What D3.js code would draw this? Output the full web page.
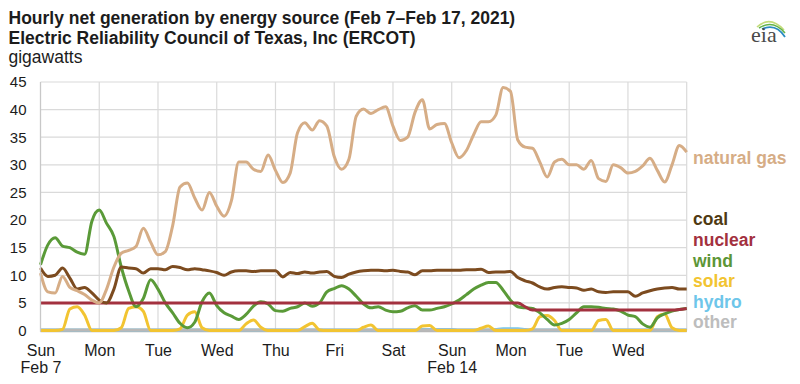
<!DOCTYPE html>
<html>
<head>
<meta charset="utf-8">
<script src="https://cdn.jsdelivr.net/npm/d3@7"></script>
<style>
  body { margin: 0; background: #fff; }
  svg { display: block; font-family: "Liberation Sans", Arial, sans-serif; }
</style>
</head>
<body>
<div id="chart"></div>
<script>
// readings every 3 hours, Sun Feb 7 00:00 to Thu Feb 18 00:00 (gigawatts)
var startDay = new Date(2021, 1, 7);
var endDay = new Date(2021, 1, 18);
var stepHours = 3;

var naturalGas = [10.4, 7.0, 6.8, 9.8, 7.8, 7.2, 6.5, 5.5, 5.0, 7.5,
  11.5, 14.0, 14.5, 15.2, 18.5, 16.0, 13.7, 14.3, 19.0, 26.0,
  26.7, 24.0, 21.8, 25.0, 22.5, 20.7, 23.5, 30.5, 30.5, 29.2,
  28.8, 31.8, 29.0, 26.8, 28.5, 35.8, 37.6, 36.3, 38.0, 37.0,
  31.5, 29.2, 31.0, 38.8, 40.1, 39.3, 40.0, 40.5, 37.0, 34.4,
  35.0, 39.5, 41.8, 36.5, 37.3, 37.5, 34.0, 31.3, 32.6, 35.5,
  37.8, 37.8, 39.0, 44.0, 43.3, 34.5, 33.2, 33.0, 30.5, 27.8,
  30.5, 31.0, 30.0, 30.0, 29.2, 30.8, 27.5, 27.0, 30.0, 29.5,
  28.5, 28.8, 29.8, 31.2, 29.0, 26.9, 30.0, 33.5, 32.3];

var coal = [11.3, 9.8, 10.0, 11.3, 9.5, 7.5, 7.8, 6.8, 5.5, 5.0,
  7.5, 11.5, 11.3, 11.2, 10.4, 11.2, 11.2, 11.0, 11.6, 11.4,
  11.0, 11.2, 11.0, 10.8, 10.5, 10.0, 10.6, 10.8, 10.8, 10.7,
  10.8, 10.8, 10.8, 9.7, 10.5, 10.3, 10.6, 10.4, 10.6, 10.7,
  9.8, 9.6, 10.2, 10.6, 10.8, 10.9, 10.9, 10.8, 10.9, 10.7,
  10.6, 10.1, 10.8, 10.8, 10.9, 10.9, 10.9, 10.9, 11.0, 11.0,
  11.1, 10.5, 10.6, 10.6, 10.7, 9.6, 9.0, 8.6, 7.9, 7.5,
  7.8, 7.9, 7.8, 7.7, 7.3, 7.5, 7.0, 6.9, 7.0, 7.0,
  7.0, 6.2, 6.8, 7.2, 7.5, 7.7, 7.8, 7.5, 7.5];

var nuclear = [5.0, 5.0, 5.0, 5.0, 5.0, 5.0, 5.0, 5.0, 5.0, 5.0,
  5.0, 5.0, 5.0, 5.0, 5.0, 5.0, 5.0, 5.0, 5.0, 5.0,
  5.0, 5.0, 5.0, 5.0, 5.0, 5.0, 5.0, 5.0, 5.0, 5.0,
  5.0, 5.0, 5.0, 5.0, 5.0, 5.0, 5.0, 5.0, 5.0, 5.0,
  5.0, 5.0, 5.0, 5.0, 5.0, 5.0, 5.0, 5.0, 5.0, 5.0,
  5.0, 5.0, 5.0, 5.0, 5.0, 5.0, 5.0, 5.0, 5.0, 5.0,
  5.0, 5.0, 5.0, 5.0, 5.0, 5.0, 4.3, 3.7, 3.7, 3.7,
  3.7, 3.7, 3.7, 3.7, 3.7, 3.7, 3.7, 3.7, 3.7, 3.7,
  3.7, 3.7, 3.7, 3.7, 3.7, 3.7, 3.7, 3.8, 4.0];

var wind = [11.9, 15.5, 16.8, 15.3, 15.0, 14.2, 13.8, 19.8, 21.8, 19.4,
  17.0, 11.5, 7.2, 4.3, 5.8, 9.2, 7.5, 5.0, 3.2, 1.3,
  0.5, 1.5, 5.2, 6.8, 4.5, 3.2, 2.6, 2.0, 2.9, 4.4,
  5.2, 4.8, 3.6, 3.5, 4.0, 4.3, 5.0, 4.4, 5.0, 7.0,
  7.6, 8.1, 7.5, 6.2, 4.8, 4.1, 4.3, 3.7, 3.4, 3.5,
  4.1, 4.5, 3.7, 3.7, 4.0, 4.3, 4.8, 5.5, 6.5, 7.5,
  8.2, 8.7, 8.7, 7.3, 5.5, 4.3, 4.1, 4.0, 3.2, 2.0,
  1.0, 1.3, 2.0, 3.2, 4.3, 4.3, 4.2, 4.0, 3.9, 3.5,
  2.8, 2.5, 1.2, 0.6, 2.3, 3.0, 3.5, 3.8, 4.0];

var solar = [0, 0, 0, 0.2, 3.9, 4.3, 2.8, 0, 0, 0,
  0, 0.5, 4.0, 4.3, 3.5, 0, 0, 0, 0, 0.3,
  2.8, 3.4, 0.5, 0, 0, 0, 0, 0, 1.2, 1.9,
  0.6, 0, 0, 0, 0, 0, 0.7, 1.3, 0.1, 0,
  0, 0, 0, 0, 0.6, 1.0, 0, 0, 0, 0,
  0, 0, 0.8, 0.9, 0, 0, 0, 0, 0, 0,
  0.4, 0.8, 0, 0, 0, 0, 0, 0.3, 2.5, 2.7,
  1.8, 0, 0, 0, 0, 0, 1.8, 2.0, 0, 0,
  0, 0, 0, 0, 2.5, 3.0, 0.5, 0, 0];

var hydro = [0.1, 0.1, 0.1, 0.1, 0.1, 0.1, 0.1, 0.1, 0.1, 0.1,
  0.1, 0.1, 0.1, 0.1, 0.1, 0.1, 0.1, 0.1, 0.1, 0.1,
  0.1, 0.1, 0.1, 0.1, 0.1, 0.1, 0.1, 0.1, 0.1, 0.1,
  0.1, 0.1, 0.1, 0.1, 0.1, 0.1, 0.1, 0.1, 0.1, 0.1,
  0.1, 0.1, 0.1, 0.1, 0.1, 0.1, 0.1, 0.1, 0.1, 0.1,
  0.1, 0.1, 0.2, 0.2, 0.2, 0.2, 0.2, 0.1, 0.1, 0.1,
  0.1, 0.1, 0.2, 0.3, 0.3, 0.3, 0.2, 0.1, 0.1, 0.1,
  0.1, 0.1, 0.1, 0.1, 0.1, 0.1, 0.1, 0.1, 0.1, 0.1,
  0.1, 0.1, 0.1, 0.1, 0.1, 0.1, 0.1, 0.1, 0.1];

var other = [0.1, 0.1, 0.1, 0.1, 0.1, 0.1, 0.1, 0.1, 0.1, 0.1,
  0.1, 0.1, 0.1, 0.1, 0.1, 0.1, 0.1, 0.1, 0.1, 0.1,
  0.1, 0.1, 0.1, 0.1, 0.1, 0.1, 0.1, 0.1, 0.1, 0.1,
  0.1, 0.1, 0.1, 0.1, 0.1, 0.1, 0.1, 0.1, 0.1, 0.1,
  0.1, 0.1, 0.1, 0.1, 0.1, 0.1, 0.1, 0.1, 0.1, 0.1,
  0.1, 0.1, 0.1, 0.1, 0.1, 0.1, 0.1, 0.1, 0.1, 0.1,
  0.1, 0.1, 0.1, 0.1, 0.1, 0.1, 0.1, 0.1, 0.1, 0.1,
  0.1, 0.1, 0.1, 0.1, 0.1, 0.1, 0.1, 0.1, 0.1, 0.1,
  0.1, 0.1, 0.1, 0.1, 0.1, 0.1, 0.1, 0.1, 0.1];

var yTicks = [0, 5, 10, 15, 20, 25, 30, 35, 40, 45];
var dayLabels = ["Sun", "Mon", "Tue", "Wed", "Thu", "Fri", "Sat", "Sun", "Mon", "Tue", "Wed"];
var dateLabels = {0: "Feb 7", 7: "Feb 14"};

// series in drawing order (bottom first) and their legend positions
var series = [
  {name: "hydro", values: hydro, color: "#74c7ea", label: "#6ec6ea", ly: 302},
  {name: "other", values: other, color: "#b8b8b8", label: "#bdbdbd", ly: 322},
  {name: "solar", values: solar, color: "#f2c431", label: "#f2c431", ly: 281},
  {name: "wind", values: wind, color: "#5a9a38", label: "#5c9636", ly: 261},
  {name: "nuclear", values: nuclear, color: "#a3313f", label: "#a3313f", ly: 240},
  {name: "coal", values: coal, color: "#7c4b1f", label: "#4f3a12", ly: 219},
  {name: "natural gas", values: naturalGas, color: "#d6ad86", label: "#d6ad86", ly: 158}
];

var width = 800, height = 384;
var plotLeft = 40.5, plotRight = 686.7, plotTop = 82, plotBottom = 330.5;

var svg = d3.select("#chart").append("svg")
  .attr("width", width).attr("height", height);

var x = d3.scaleTime().domain([startDay, endDay]).range([plotLeft, plotRight]);
var y = d3.scaleLinear().domain([0, 45]).range([plotBottom, plotTop]);

function timeAt(i) { return d3.timeHour.offset(startDay, i * stepHours); }

// titles
var titles = svg.append("g").attr("fill", "#1c1c1c");
titles.append("text").attr("x", 8.5).attr("y", 23.5)
  .attr("font-size", "17.5px").attr("font-weight", "bold")
  .text("Hourly net generation by energy source (Feb 7\u2013Feb 17, 2021)");
titles.append("text").attr("x", 8.5).attr("y", 43.5)
  .attr("font-size", "17.5px").attr("font-weight", "bold")
  .text("Electric Reliability Council of Texas, Inc (ERCOT)");
titles.append("text").attr("x", 8.5).attr("y", 62.5)
  .attr("font-size", "17.5px")
  .text("gigawatts");

// eia logo
var logo = svg.append("g");
logo.append("path").attr("d", "M757,27 Q770,15 784,30").attr("fill", "none")
  .attr("stroke", "#c3dc7a").attr("stroke-width", 1.6);
logo.append("path").attr("d", "M759,28 Q773,19 785,33").attr("fill", "none")
  .attr("stroke", "#63b34a").attr("stroke-width", 1.6);
logo.append("path").attr("d", "M762,29 Q776,23 785,37").attr("fill", "none")
  .attr("stroke", "#2a8cc2").attr("stroke-width", 1.8);
logo.append("text").attr("x", 751).attr("y", 42)
  .attr("font-family", "'Liberation Serif', 'DejaVu Serif', serif")
  .attr("font-size", "22px").attr("fill", "#4a4a4a").text("eia");

// grid
var grid = svg.append("g").attr("stroke", "#dadada").attr("stroke-width", 1.2);
grid.selectAll("line.h").data(yTicks.slice(1)).enter().append("line")
  .attr("x1", plotLeft).attr("x2", plotRight)
  .attr("y1", function(d) { return y(d); }).attr("y2", function(d) { return y(d); });
var days = d3.timeDay.range(startDay, d3.timeDay.offset(endDay, 1));
grid.selectAll("line.v").data(days).enter().append("line")
  .attr("x1", function(d) { return x(d); }).attr("x2", function(d) { return x(d); })
  .attr("y1", plotTop).attr("y2", plotBottom);

// y axis labels
var yAxis = svg.append("g")
  .attr("transform", "translate(" + plotLeft + ",0)")
  .call(d3.axisLeft(y).tickValues(yTicks).tickSize(0).tickPadding(14));
yAxis.select(".domain").remove();
yAxis.selectAll("text").attr("font-size", "15px").attr("fill", "#1c1c1c")
  .attr("font-family", "'Liberation Sans', Arial, sans-serif");

// x axis labels
var xAxis = svg.append("g")
  .attr("transform", "translate(0," + plotBottom + ")")
  .call(d3.axisBottom(x).tickValues(days.slice(0, 11)).tickSize(0).tickPadding(0)
    .tickFormat(function(d, i) { return dayLabels[i]; }));
xAxis.select(".domain").remove();
xAxis.selectAll(".tick text").attr("font-size", "16px").attr("fill", "#1c1c1c")
  .attr("font-family", "'Liberation Sans', Arial, sans-serif")
  .attr("y", 25.5).attr("dy", 0)
  .each(function(d, i) {
    if (dateLabels[i]) {
      d3.select(this).append("tspan").attr("x", 0).attr("dy", 17).text(dateLabels[i]);
    }
  });

// lines
var line = d3.line()
  .x(function(d, i) { return x(timeAt(i)); })
  .y(function(d) { return y(d); })
  .curve(d3.curveMonotoneX);

// baseline
svg.append("line").attr("x1", plotLeft).attr("x2", plotRight)
  .attr("y1", plotBottom + 0.5).attr("y2", plotBottom + 0.5)
  .attr("stroke", "#b4b4b4").attr("stroke-width", 2.5);

svg.append("g").selectAll("path").data(series).enter().append("path")
  .attr("d", function(s) { return line(s.values); })
  .attr("fill", "none")
  .attr("stroke", function(s) { return s.color; })
  .attr("stroke-width", 3)
  .attr("stroke-linejoin", "round");

// left border
svg.append("line").attr("x1", plotLeft).attr("x2", plotLeft)
  .attr("y1", plotTop).attr("y2", plotBottom + 1.5)
  .attr("stroke", "#c8c8c8").attr("stroke-width", 1.2);

// series labels at right
svg.append("g").selectAll("text").data(series).enter().append("text")
  .attr("x", 693).attr("y", function(s) { return s.ly; }).attr("dy", "0.35em")
  .attr("font-size", "17.5px").attr("font-weight", "bold")
  .attr("fill", function(s) { return s.label; })
  .text(function(s) { return s.name; });
</script>
</body>
</html>
